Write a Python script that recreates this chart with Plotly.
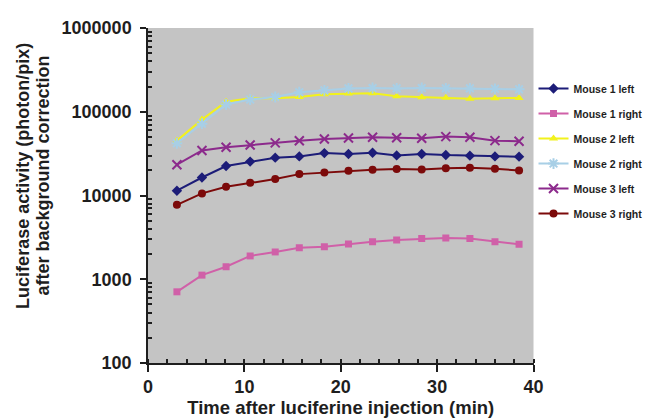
import plotly.graph_objects as go

time_min = [3.0, 5.6, 8.1, 10.6, 13.2, 15.7, 18.3, 20.8, 23.3, 25.8, 28.4, 30.9, 33.4, 36.0, 38.5]

mouse1_left = [11400, 16400, 22500, 25400, 28300, 29300, 32100, 31300, 32400, 30100, 31300, 30400, 29900, 29300, 29100]
mouse1_right = [708, 1120, 1410, 1900, 2120, 2370, 2450, 2640, 2810, 2950, 3060, 3110, 3060, 2810, 2610]
mouse2_left = [45200, 81000, 132000, 145000, 145000, 150000, 162000, 165000, 166000, 153000, 149000, 147000, 143000, 145000, 146000]
mouse2_right = [42000, 72000, 122000, 140000, 150000, 171000, 180000, 190000, 192000, 190000, 192000, 190000, 190000, 188000, 185000]
mouse3_left = [23300, 34500, 37600, 40100, 42500, 45000, 47200, 48500, 49500, 49000, 48200, 50500, 49500, 45200, 44400]
mouse3_right = [7740, 10600, 12700, 14200, 15700, 18000, 18800, 19700, 20300, 20700, 20500, 21200, 21400, 20900, 19900]

series_names = ["Mouse 1 left", "Mouse 1 right", "Mouse 2 left", "Mouse 2 right", "Mouse 3 left", "Mouse 3 right"]
series_values = [mouse1_left, mouse1_right, mouse2_left, mouse2_right, mouse3_left, mouse3_right]
colors = ["#1c1c78", "#d060a8", "#f2f21c", "#a8cfe6", "#8c2a8c", "#7c0a0a"]
symbols = ["diamond", "square", "triangle-up", "asterisk-open", "x-thin-open", "circle"]
sizes = [8, 7, 8, 9, 9, 8]

y_major = [100, 1000, 10000, 100000, 1000000]
y_labels = ["100", "1000", "10000", "100000", "1000000"]
y_minor = [m * d for d in [100, 1000, 10000, 100000] for m in range(2, 10)]

FONT = "Liberation Sans, Arial, sans-serif"
INK = "#1e1e1e"

fig = go.Figure()
for i, (name, vals) in enumerate(zip(series_names, series_values)):
    marker = dict(symbol=symbols[i], size=sizes[i], color=colors[i],
                  line=dict(color=colors[i], width=2 if "open" in symbols[i] else 0))
    fig.add_trace(go.Scatter(
        x=time_min, y=vals, name=name, mode="lines+markers",
        line=dict(color=colors[i], width=2),
        marker=marker, legendgroup=name,
    ))

tick_font = dict(family=FONT, size=18, color=INK, weight="bold")

fig.update_layout(
    width=652, height=418,
    margin=dict(l=140, r=122, t=20, b=63),
    paper_bgcolor="white",
    plot_bgcolor="#c4c4c4",
    font=dict(family=FONT, color=INK),
    showlegend=True,
    legend=dict(
        xref="container", yref="container",
        x=0.806, y=0.842, xanchor="left", yanchor="top",
        font=dict(family=FONT, size=10.5, color=INK, weight="bold"),
        bgcolor="rgba(0,0,0,0)", borderwidth=0, tracegroupgap=6, itemwidth=30,
    ),
    xaxis=dict(
        range=[0, 40], tickvals=[0, 10, 20, 30, 40], automargin=False,
        ticks="outside", ticklen=7, tickwidth=1.5, tickcolor=INK,
        showline=True, linecolor=INK, linewidth=1.5,
        showgrid=False, zeroline=False,
        minor=dict(dtick=2, ticks="inside", ticklen=4, tickcolor=INK, showgrid=False),
        tickfont=tick_font,
        title=dict(text="Time after luciferine injection (min)", standoff=4,
                   font=dict(family=FONT, size=18.5, color=INK, weight="bold")),
    ),
    yaxis=dict(
        type="log", range=[2, 6], automargin=False,
        tickvals=y_major, ticktext=y_labels,
        ticks="outside", ticklen=6, tickwidth=1.5, tickcolor=INK,
        ticklabelstandoff=5,
        showline=True, linecolor=INK, linewidth=1.5,
        showgrid=False, zeroline=False,
        minor=dict(tickvals=y_minor, ticks="inside", ticklen=4, tickcolor=INK, showgrid=False),
        tickfont=tick_font,
    ),
    annotations=[
        dict(text="Luciferase activity (photon/pix)", xref="paper", yref="paper",
             x=-0.323, y=0.56, xanchor="center", yanchor="middle", textangle=-90,
             showarrow=False, font=dict(family=FONT, size=18, color=INK, weight="bold")),
        dict(text="after background correction", xref="paper", yref="paper",
             x=-0.272, y=0.56, xanchor="center", yanchor="middle", textangle=-90,
             showarrow=False, font=dict(family=FONT, size=18, color=INK, weight="bold")),
    ],
)

fig.write_html("out.html")
